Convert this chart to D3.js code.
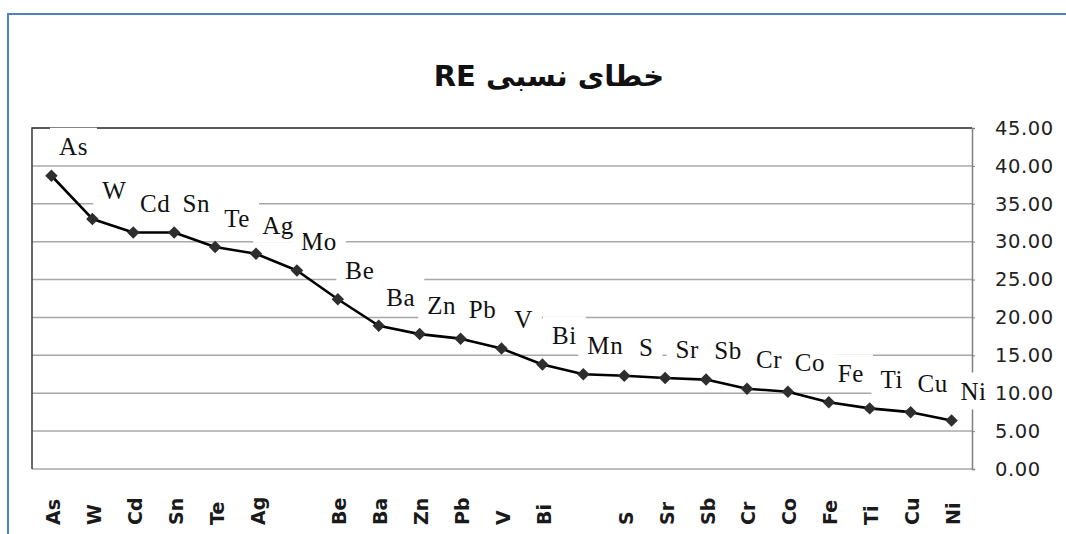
<!DOCTYPE html>
<html>
<head>
<meta charset="utf-8">
<script src="https://cdn.jsdelivr.net/npm/d3@7"></script>
<style>
  html, body { margin: 0; padding: 0; background: #ffffff; }
  svg { display: block; }
</style>
</head>
<body>
<svg id="chart" width="1066" height="534"></svg>
<script>
// Relative error (RE) per element, sorted from largest to smallest
const elements = ["As", "W", "Cd", "Sn", "Te", "Ag", "Mo", "Be", "Ba", "Zn", "Pb", "V",
                  "Bi", "Mn", "S", "Sr", "Sb", "Cr", "Co", "Fe", "Ti", "Cu", "Ni"];
const reValues = [38.7, 33.0, 31.2, 31.2, 29.3, 28.4, 26.2, 22.4, 18.9, 17.8, 17.2, 15.9,
                  13.8, 12.5, 12.3, 12.0, 11.8, 10.6, 10.2, 8.8, 8.0, 7.5, 6.4];
// Category axis labels (two are not printed on the axis)
const axisLabels = ["As", "W", "Cd", "Sn", "Te", "Ag", "", "Be", "Ba", "Zn", "Pb", "V",
                    "Bi", "", "S", "Sr", "Sb", "Cr", "Co", "Fe", "Ti", "Cu", "Ni"];
const yTicks = [0, 5, 10, 15, 20, 25, 30, 35, 40, 45];
const chartTitle = "خطای نسبی RE";

const svg = d3.select("#chart");
const W = 1066, H = 534;
const plot = { left: 32, right: 972, top: 128, bottom: 469 };

// Outer chart border
svg.append("path")
  .attr("d", `M8,${H} L8,14 L${W},14`)
  .attr("fill", "none")
  .attr("stroke", "#4f81c7")
  .attr("stroke-width", 2);

// Title
svg.append("text")
  .attr("x", 549)
  .attr("y", 86)
  .attr("text-anchor", "middle")
  .attr("direction", "rtl")
  .attr("font-family", "'DejaVu Sans', sans-serif")
  .attr("font-weight", "bold")
  .attr("font-size", 29)
  .attr("fill", "#111")
  .text(chartTitle);

const x = d3.scalePoint()
  .domain(elements)
  .range([plot.left - 1, plot.right])
  .padding(0.5);

const y = d3.scaleLinear()
  .domain([0, 45])
  .range([plot.bottom, plot.top]);

// Horizontal gridlines
svg.append("g")
  .selectAll("line")
  .data(yTicks)
  .join("line")
  .attr("x1", plot.left)
  .attr("x2", plot.right)
  .attr("y1", d => y(d))
  .attr("y2", d => y(d))
  .attr("stroke", "#a8a8a8")
  .attr("stroke-width", 1.5);

// Plot frame: dark left and top edges, grey right axis
svg.append("path")
  .attr("d", `M${plot.left},${plot.bottom} L${plot.left},${plot.top} L${plot.right},${plot.top}`)
  .attr("fill", "none")
  .attr("stroke", "#3a3a3a")
  .attr("stroke-width", 1.5);

// Right-hand value axis
const yAxis = d3.axisRight(y)
  .tickValues(yTicks)
  .tickFormat(d3.format(".2f"))
  .tickSize(3)
  .tickPadding(20);

const yAxisG = svg.append("g")
  .attr("transform", `translate(${plot.right},0)`)
  .call(yAxis);
yAxisG.select(".domain").attr("stroke", "#808080").attr("stroke-width", 1.5);
yAxisG.selectAll(".tick line").attr("stroke", "#808080");
yAxisG.selectAll(".tick text")
  .attr("font-family", "'DejaVu Sans', sans-serif")
  .attr("font-size", 19.5)
  .attr("letter-spacing", 0.6)
  .attr("fill", "#222");

// Category axis labels, rotated
const xAxis = d3.axisBottom(x)
  .tickSize(0)
  .tickFormat((d, i) => axisLabels[i]);

const xAxisG = svg.append("g")
  .attr("transform", `translate(0,${plot.bottom})`)
  .call(xAxis);
xAxisG.select(".domain").remove();
xAxisG.selectAll(".tick text")
  .attr("transform", "translate(8,56) rotate(-90)")
  .attr("x", 0)
  .attr("y", 0)
  .attr("dy", 0)
  .attr("text-anchor", "start")
  .attr("font-family", "'DejaVu Sans', sans-serif")
  .attr("font-weight", "bold")
  .attr("font-size", 19)
  .attr("fill", "#1a1a1a");

// The RE line
const line = d3.line()
  .x((d, i) => x(elements[i]))
  .y(d => y(d));

svg.append("path")
  .datum(reValues)
  .attr("d", line)
  .attr("fill", "none")
  .attr("stroke", "#000")
  .attr("stroke-width", 2.6)
  .attr("stroke-linejoin", "round");

// Diamond markers
const diamond = d3.symbol().type(d3.symbolSquare).size(78);
svg.append("g")
  .selectAll("path")
  .data(reValues)
  .join("path")
  .attr("d", diamond)
  .attr("transform", (d, i) => `translate(${x(elements[i])},${y(d)}) rotate(45)`)
  .attr("fill", "#2e2e2e");

// Data labels with white boxes; earlier labels are drawn on top
const labelG = svg.append("g");
const labelData = elements.map((e, i) => ({ name: e, value: reValues[i], i }));
labelData.slice().reverse().forEach(d => {
  const cx = x(d.name) + 22;
  const cy = y(d.value) - 29;
  const g = labelG.append("g").attr("transform", `translate(${cx},${cy})`);
  const rect = g.append("rect").attr("fill", "#ffffff");
  const t = g.append("text")
    .attr("text-anchor", "middle")
    .attr("dy", "0.35em")
    .attr("font-family", "'Liberation Serif', 'Times New Roman', serif")
    .attr("font-size", 25)
    .attr("letter-spacing", 0.6)
    .attr("fill", "#111")
    .text(d.name);
  const bb = t.node().getBBox();
  rect.attr("x", bb.x - 9)
    .attr("y", -19)
    .attr("width", bb.width + 18)
    .attr("height", 37);
});
</script>
</body>
</html>
